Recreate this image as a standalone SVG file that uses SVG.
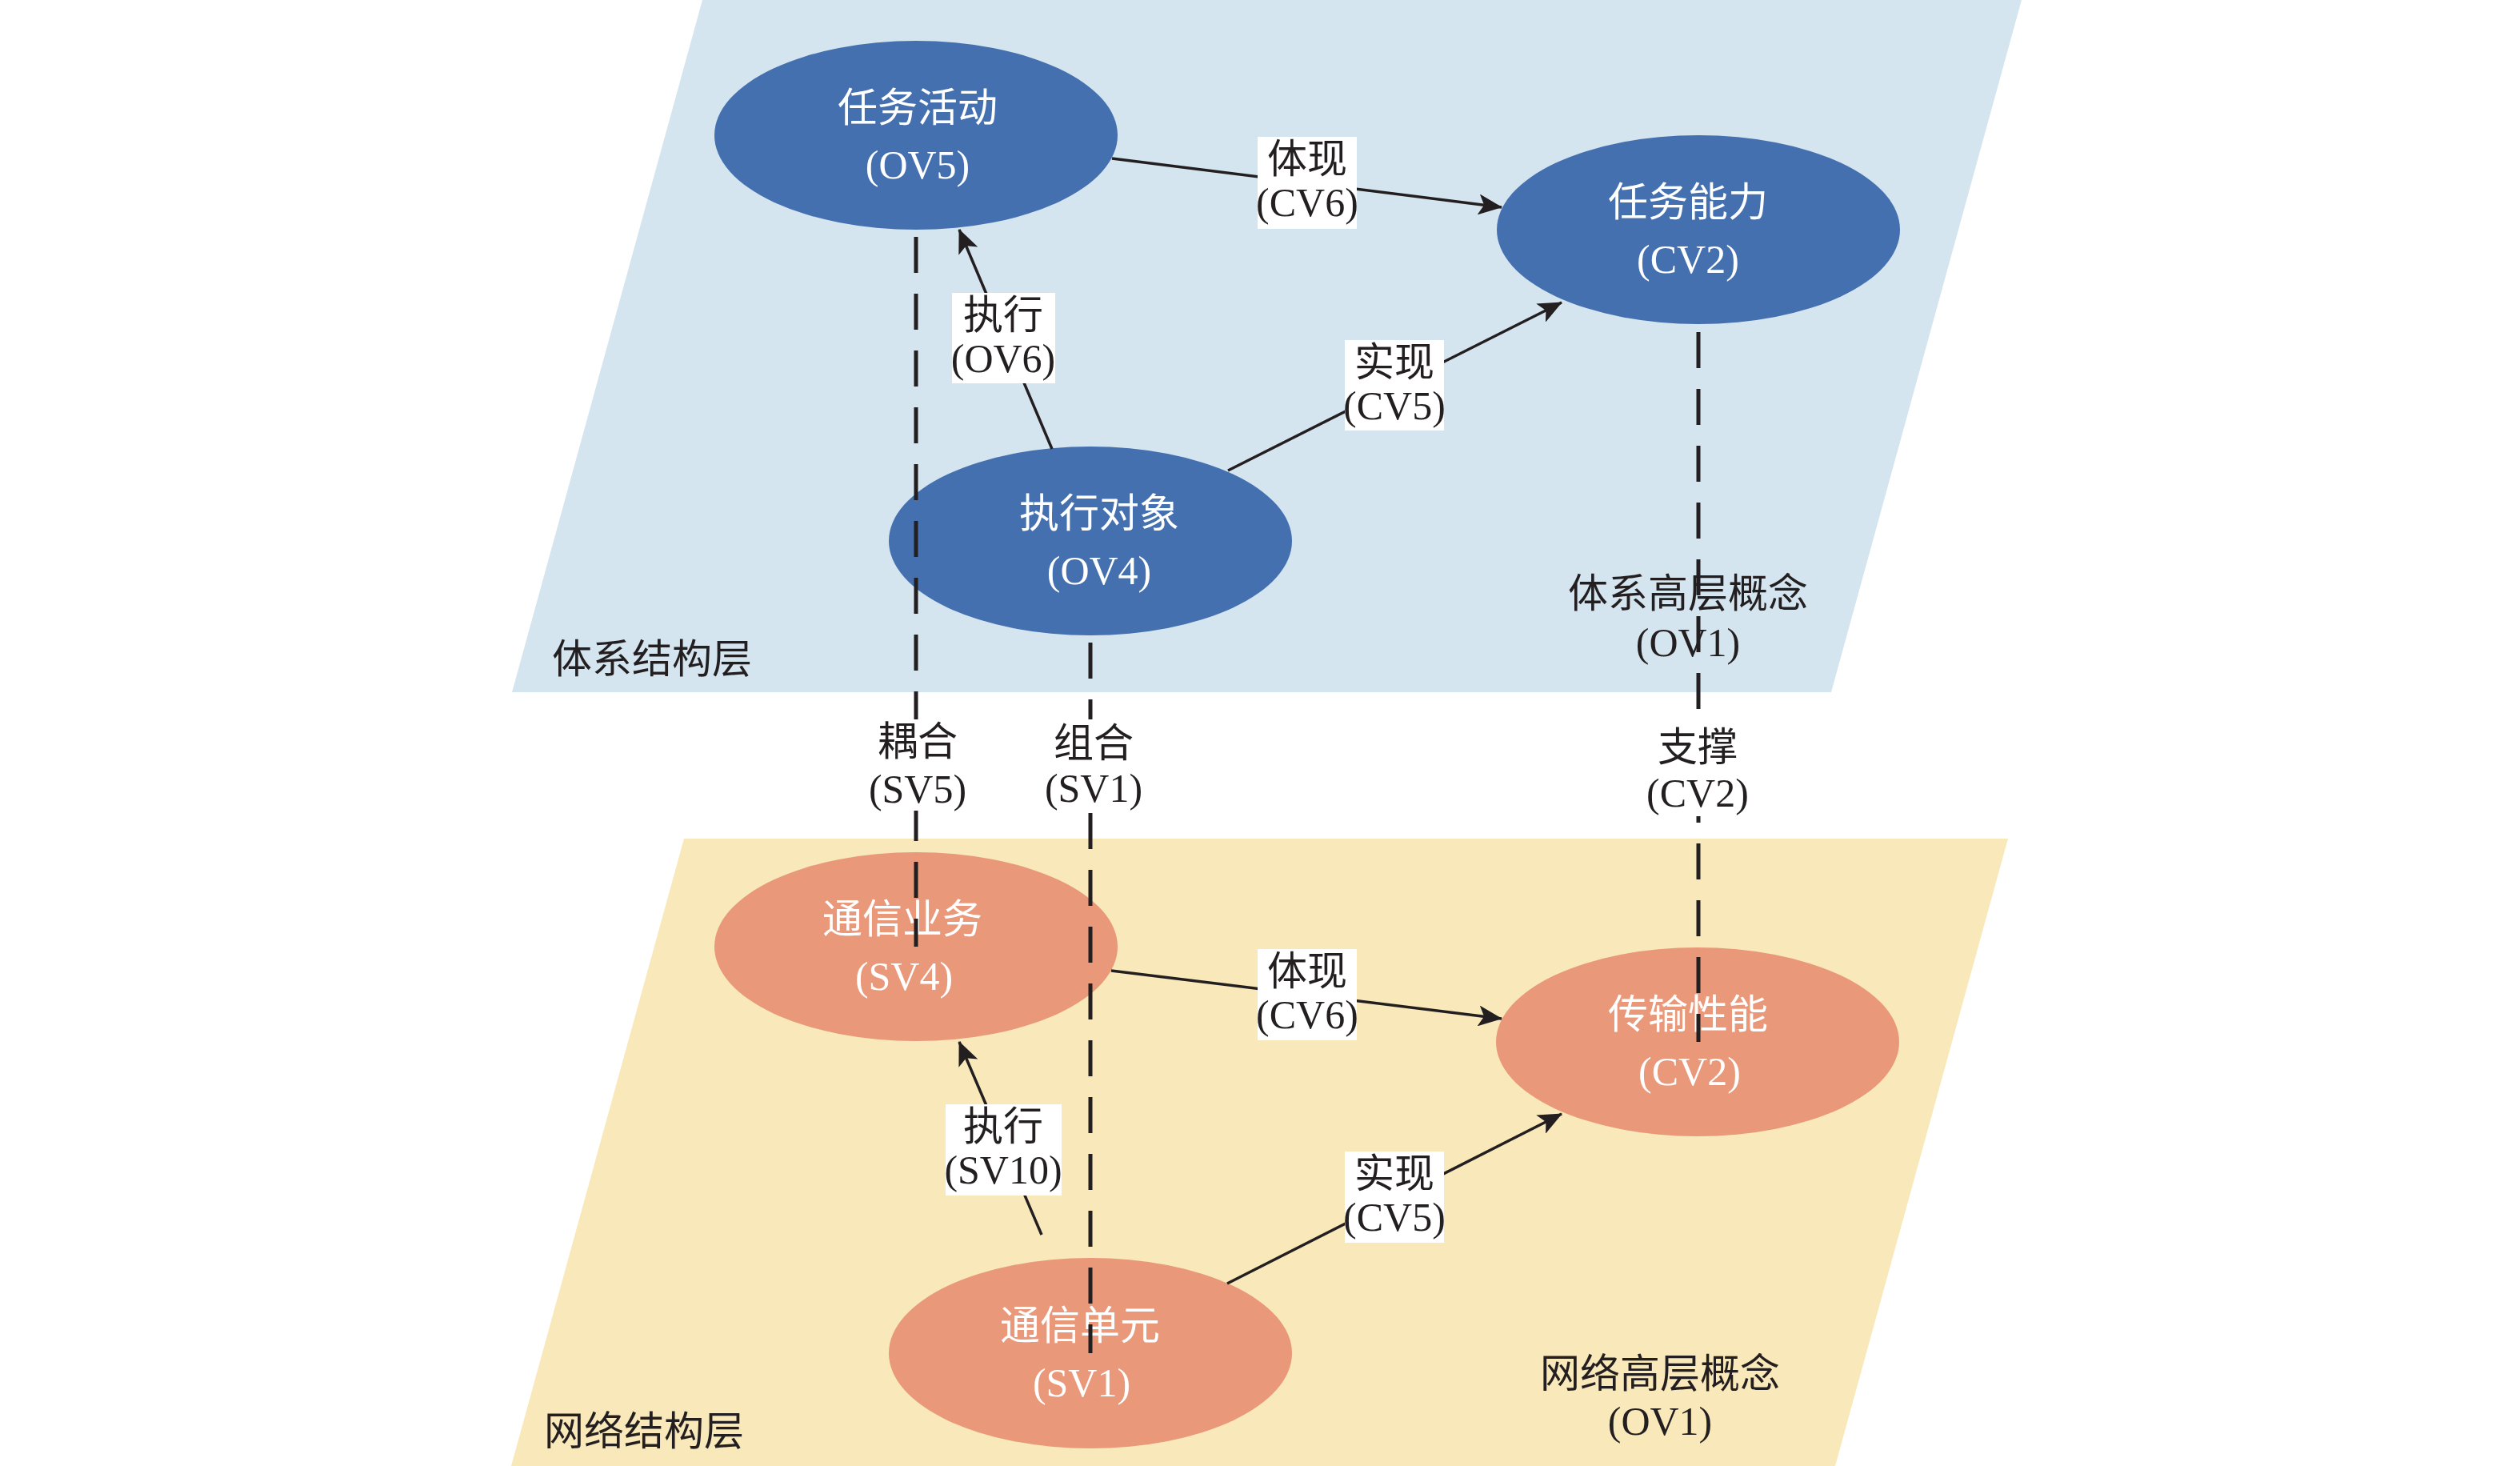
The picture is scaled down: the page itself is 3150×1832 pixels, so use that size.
<svg xmlns="http://www.w3.org/2000/svg" width="3150" height="1832" viewBox="0 0 3150 1832">
<defs>
<style>
.txt{font-family:"Liberation Serif","Noto Sans CJK SC",serif;font-size:50px;fill:#231f20}
.ntxt{font-family:"Liberation Serif","Noto Sans CJK SC",serif;font-size:50px;fill:#ffffff;text-anchor:middle}
.mid{text-anchor:middle}
.blue{fill:#4470b0}
.orange{fill:#e9987a}
.arrow{stroke:#231f20;stroke-width:3.5;fill:none;marker-end:url(#ah)}
.dash{stroke:#231f20;stroke-width:5;stroke-dasharray:45 26;fill:none}
.box{fill:#ffffff}
</style>
<marker id="ah" markerUnits="userSpaceOnUse" markerWidth="30" markerHeight="26" refX="29" refY="13" orient="auto">
<path d="M0,0 L30,13 L0,26 L7,13 Z" fill="#231f20"/>
</marker>
</defs>
<rect x="0" y="0" width="3150" height="1832" fill="#ffffff"/>
<g id="layers">
<polygon id="layer-system" points="878,0 2527,0 2289,865 640,865" fill="#d5e5f0"/>
<polygon id="layer-network" points="855,1048 2510,1048 2294,1832 639,1832" fill="#f9e8b9"/>
<text class="txt" x="690" y="841">体系结构层</text>
<text class="txt mid" x="2110" y="759">体系高层概念</text>
<text class="txt mid" x="2110" y="820">(OV1)</text>
<text class="txt" x="680" y="1806">网络结构层</text>
<text class="txt mid" x="2075" y="1734">网络高层概念</text>
<text class="txt mid" x="2075" y="1793">(OV1)</text>
</g>
<g id="node-ov5">
<ellipse class="blue" cx="1145" cy="169" rx="252" ry="118"/>
<text class="ntxt" x="1147" y="152">任务活动</text>
<text class="ntxt" x="1147" y="223">(OV5)</text>
</g>
<g id="node-cv2-top">
<ellipse class="blue" cx="2123" cy="287" rx="252" ry="118"/>
<text class="ntxt" x="2110" y="270">任务能力</text>
<text class="ntxt" x="2110" y="341">(CV2)</text>
</g>
<g id="node-ov4">
<ellipse class="blue" cx="1363" cy="676" rx="252" ry="118"/>
<text class="ntxt" x="1374" y="659">执行对象</text>
<text class="ntxt" x="1374" y="730">(OV4)</text>
</g>
<g id="node-sv4">
<ellipse class="orange" cx="1145" cy="1183" rx="252" ry="118"/>
<text class="ntxt" x="1128" y="1166">通信业务</text>
<text class="ntxt" x="1130" y="1237">(SV4)</text>
</g>
<g id="node-cv2-bottom">
<ellipse class="orange" cx="2122" cy="1302" rx="252" ry="118"/>
<text class="ntxt" x="2110" y="1285">传输性能</text>
<text class="ntxt" x="2112" y="1356">(CV2)</text>
</g>
<g id="node-sv1">
<ellipse class="orange" cx="1363" cy="1691" rx="252" ry="119"/>
<text class="ntxt" x="1350" y="1674">通信单元</text>
<text class="ntxt" x="1352" y="1745">(SV1)</text>
</g>
<g id="connectors">
<line class="dash" x1="1145" y1="296" x2="1145" y2="1183"/>
<line class="dash" x1="1363" y1="803" x2="1363" y2="1691"/>
<line class="dash" x1="2123" y1="415" x2="2123" y2="1302"/>
<line class="arrow" x1="1390" y1="198" x2="1877" y2="259"/>
<line class="arrow" x1="1315" y1="561" x2="1199" y2="287"/>
<line class="arrow" x1="1535" y1="588" x2="1952" y2="378"/>
<line class="arrow" x1="1389" y1="1213" x2="1877" y2="1273"/>
<line class="arrow" x1="1302" y1="1543" x2="1199" y2="1302"/>
<line class="arrow" x1="1534" y1="1604" x2="1952" y2="1392"/>
<rect class="box" x="1572" y="171" width="124" height="115"/>
<text class="txt mid" x="1634" y="216">体现</text>
<text class="txt mid" x="1634" y="270">(CV6)</text>
<rect class="box" x="1190" y="366" width="129" height="113"/>
<text class="txt mid" x="1254" y="411">执行</text>
<text class="txt mid" x="1254" y="465">(OV6)</text>
<rect class="box" x="1681" y="425" width="124" height="113"/>
<text class="txt mid" x="1743" y="470">实现</text>
<text class="txt mid" x="1743" y="524">(CV5)</text>
<rect class="box" x="1572" y="1186" width="124" height="114"/>
<text class="txt mid" x="1634" y="1231">体现</text>
<text class="txt mid" x="1634" y="1285">(CV6)</text>
<rect class="box" x="1182" y="1380" width="145" height="114"/>
<text class="txt mid" x="1254" y="1425">执行</text>
<text class="txt mid" x="1254" y="1479">(SV10)</text>
<rect class="box" x="1681" y="1439" width="124" height="114"/>
<text class="txt mid" x="1743" y="1484">实现</text>
<text class="txt mid" x="1743" y="1538">(CV5)</text>
<rect class="box" x="1083" y="899" width="128" height="114"/>
<text class="txt mid" x="1147" y="944">耦合</text>
<text class="txt mid" x="1147" y="1003">(SV5)</text>
<rect class="box" x="1303" y="899" width="128" height="116"/>
<text class="txt mid" x="1367" y="946">组合</text>
<text class="txt mid" x="1367" y="1002">(SV1)</text>
<rect class="box" x="2058" y="899" width="128" height="121"/>
<text class="txt mid" x="2122" y="951">支撑</text>
<text class="txt mid" x="2122" y="1008">(CV2)</text>
</g>
</svg>
